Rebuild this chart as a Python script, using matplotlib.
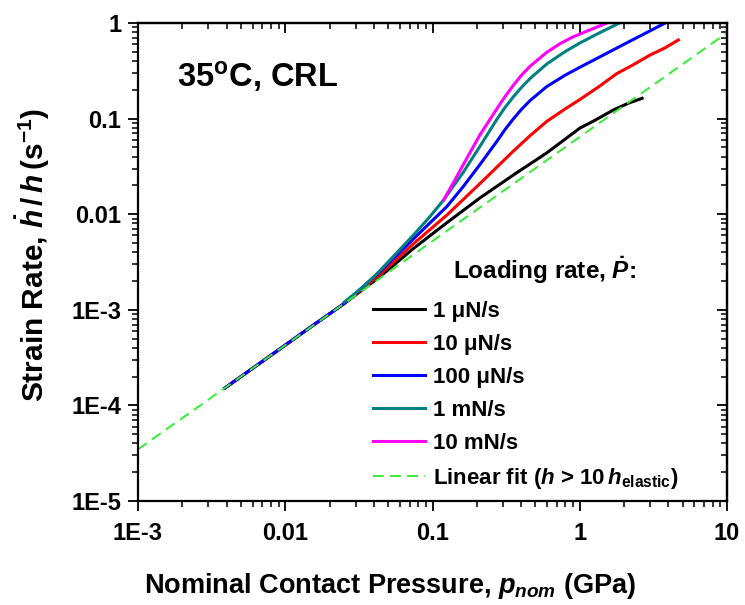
import matplotlib
matplotlib.use("Agg")
import matplotlib.pyplot as plt
from matplotlib.ticker import FixedLocator, FixedFormatter, LogLocator, NullFormatter

# ---------------- data ----------------
trunk_x = [0.00389, 0.00631, 0.0100, 0.0158, 0.0251]
trunk_y = [1.52e-4, 2.58e-4, 4.27e-4, 7.05e-4, 1.16e-3]

black_x = trunk_x + [0.0440, 0.0741, 0.125, 0.210, 0.354, 0.596, 1.0, 1.26, 1.69, 2.14, 2.65]
black_y = trunk_y + [2.22e-3, 4.37e-3, 8.13e-3, 0.0148, 0.0257, 0.0437, 0.0794, 0.0955, 0.123, 0.145, 0.163]

red_x = trunk_x + [0.0440, 0.0741, 0.125, 0.210, 0.354, 0.459, 0.596, 0.794, 1.0, 1.35,
                   1.78, 2.29, 3.0, 3.80, 4.67]
red_y = trunk_y + [2.34e-3, 4.90e-3, 9.77e-3, 0.0209, 0.0457, 0.0661, 0.0933, 0.126, 0.158, 0.216,
                   0.295, 0.363, 0.462, 0.550, 0.664]

blue_x = trunk_x + [0.0440, 0.0741, 0.125, 0.162, 0.210, 0.273, 0.310, 0.354, 0.400, 0.459,
                    0.596, 0.794, 1.0, 1.35, 1.78, 2.26, 2.85, 3.80]
blue_y = trunk_y + [2.51e-3, 5.50e-3, 0.0120, 0.0195, 0.0331, 0.0575, 0.0764, 0.0993, 0.124, 0.154,
                    0.216, 0.284, 0.344, 0.437, 0.546, 0.661, 0.794, 1.0]

teal_x = [0.0251, 0.0339, 0.0440, 0.0575, 0.0741, 0.0955, 0.119, 0.141, 0.162, 0.210, 0.273,
          0.310, 0.354, 0.400, 0.459, 0.596, 0.794, 1.0, 1.35, 1.86]
teal_y = [1.20e-3, 1.74e-3, 2.57e-3, 3.98e-3, 6.03e-3, 9.33e-3, 0.0141, 0.0204, 0.0275, 0.0513, 0.0977,
          0.130, 0.169, 0.210, 0.262, 0.372, 0.501, 0.617, 0.783, 1.0]

magenta_x = [0.119, 0.141, 0.162, 0.210, 0.273, 0.310, 0.354, 0.400, 0.459, 0.596, 0.735, 0.891,
             1.122, 1.53]
magenta_y = [0.0141, 0.0224, 0.0331, 0.0676, 0.126, 0.169, 0.223, 0.282, 0.352, 0.493, 0.608, 0.710,
             0.824, 1.0]

fit_x = [1e-3, 10.0]
fit_y = [3.47e-5, 0.79]

series_labels = ["1 \u03bcN/s", "10 \u03bcN/s", "100 \u03bcN/s", "1 mN/s", "10 mN/s"]
fit_label = r"Linear fit ($h$ > 10$\,h_{\rm elastic}$)"

xtick_vals = [1e-3, 1e-2, 1e-1, 1, 10]
xtick_labels = ["1E-3", "0.01", "0.1", "1", "10"]
ytick_vals = [1e-5, 1e-4, 1e-3, 1e-2, 1e-1, 1]
ytick_labels = ["1E-5", "1E-4", "1E-3", "0.01", "0.1", "1"]

# ---------------- style ----------------
plt.rcParams['font.family'] = ['Liberation Sans', 'DejaVu Sans']
plt.rcParams['font.weight'] = 'bold'
plt.rcParams['mathtext.fontset'] = 'custom'
plt.rcParams['mathtext.rm'] = 'Liberation Sans:bold'
plt.rcParams['mathtext.bf'] = 'Liberation Sans:bold'
plt.rcParams['mathtext.sf'] = 'Liberation Sans:bold'
plt.rcParams['mathtext.it'] = 'Liberation Sans:italic:bold'

W, H = 745, 605
fig = plt.figure(figsize=(W / 100, H / 100), dpi=100)
ax = fig.add_axes([138 / W, 1 - 501 / H, (727 - 138) / W, (501 - 23) / H])
ax.set_xscale('log')
ax.set_yscale('log')
ax.set_xlim(1e-3, 10)
ax.set_ylim(1e-5, 1)

lw = 2.2
ax.plot(black_x, black_y, color='black', lw=lw, label=series_labels[0])
ax.plot(red_x, red_y, color='#ff0000', lw=lw, label=series_labels[1])
ax.plot(blue_x, blue_y, color='#0000ff', lw=lw, label=series_labels[2])
ax.plot(teal_x, teal_y, color='#008080', lw=lw, label=series_labels[3])
ax.plot(magenta_x, magenta_y, color='#ff00ff', lw=lw, label=series_labels[4])
ax.plot(fit_x, fit_y, color='#33ee33', lw=1.4, dashes=(5.5, 3.3), label=fit_label)

for s in ax.spines.values():
    s.set_linewidth(1.6)

ax.xaxis.set_major_locator(FixedLocator(xtick_vals))
ax.xaxis.set_major_formatter(FixedFormatter(xtick_labels))
ax.yaxis.set_major_locator(FixedLocator(ytick_vals))
ax.yaxis.set_major_formatter(FixedFormatter(ytick_labels))
ax.xaxis.set_minor_locator(LogLocator(base=10, subs=range(2, 10), numticks=20))
ax.yaxis.set_minor_locator(LogLocator(base=10, subs=range(2, 10), numticks=20))
ax.xaxis.set_minor_formatter(NullFormatter())
ax.yaxis.set_minor_formatter(NullFormatter())
ax.tick_params(which='major', direction='out', length=7, width=1.3, labelsize=17)
ax.tick_params(axis='x', which='major', pad=8)
ax.tick_params(axis='y', which='major', pad=5)
ax.tick_params(which='minor', direction='out', length=4, width=1.1)

# mirrored inward ticks on top / right
secx = ax.secondary_xaxis('top')
secy = ax.secondary_yaxis('right')
for sec, axis, vals in ((secx, secx.xaxis, xtick_vals), (secy, secy.yaxis, ytick_vals)):
    axis.set_major_locator(FixedLocator(vals))
    axis.set_minor_locator(LogLocator(base=10, subs=range(2, 10), numticks=20))
    axis.set_major_formatter(NullFormatter())
    axis.set_minor_formatter(NullFormatter())
    sec.tick_params(which='major', direction='in', length=7, width=1.3)
    sec.tick_params(which='minor', direction='in', length=4, width=1.1)
    for s in sec.spines.values():
        s.set_linewidth(1.6)

ax.text((177 - 138) / 589, (501 - 87) / 478, r"35$^{\rm o}$C, CRL", transform=ax.transAxes,
        fontsize=23.5, fontweight='bold', ha='left', va='baseline')

fig.text(33 / W, 1 - 255 / H, r"Strain Rate, $\dot{h}\,/\,h\,$(s$^{-1}$)", rotation=90,
         ha='center', va='center', fontsize=21.5, fontweight='bold')
fig.text(390 / W, 1 - 586 / H, r"Nominal Contact Pressure, $p_{nom}$ (GPa)",
         ha='center', va='center', fontsize=19.5, fontweight='bold')

# legend title as its own text, entries as a legend
ax.text((453 - 138) / 589, (501 - 279) / 478, r"Loading rate, $\dot{P}$:", transform=ax.transAxes,
        fontsize=17.5, fontweight='bold', ha='left', va='baseline')
fs = 16
leg = ax.legend(loc='upper left', bbox_to_anchor=((373 - 138) / 589, (501 - 301) / 478),
                frameon=False, fontsize=fs, handlelength=52 / (fs * 1.389),
                handletextpad=8 / (fs * 1.389), labelspacing=0.54, borderpad=0, borderaxespad=0)

fig.savefig("out.png", dpi=100)
